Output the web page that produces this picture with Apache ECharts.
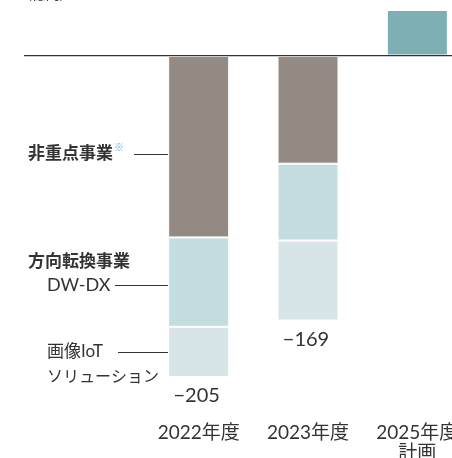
<!DOCTYPE html>
<html>
<head>
<meta charset="utf-8">
<script src="https://cdn.jsdelivr.net/npm/echarts@6/dist/echarts.min.js"></script>
<style>
  html, body { margin: 0; padding: 0; background: #ffffff; }
  #chart { width: 452px; height: 458px; }
</style>
</head>
<body>
<div id="chart"></div>
<script>
  // 億円
  let years = ['2022年度', '2023年度', '2025年度\n計画']
  let nonCore = [-116, -69, null]
  let dwdx = [-57, -49, null]
  let imageIot = [-32, -51, null]
  let plan = [null, null, 29]
  let totals = [-205, -169, null]

  let font = "Lato, 'Noto Sans CJK JP', sans-serif"
  let myChart = echarts.init(document.getElementById('chart'))

  let seg = function (name, data, color) {
    return {
      name: name,
      type: 'bar',
      stack: 'all',
      barWidth: 61,
      data: data,
      itemStyle: { color: color, borderColor: '#fff', borderWidth: 1 }
    }
  }

  let iot = seg('画像IoTソリューション', imageIot, '#d7e5e9')
  iot.label = {
    show: true,
    position: 'bottom',
    distance: 9,
    offset: [-2, 0],
    fontFamily: font,
    fontSize: 20,
    color: '#333',
    formatter: function (p) {
      let t = totals[p.dataIndex]
      return t == null ? '' : String(t).replace('-', '−')
    }
  }

  myChart.setOption({
    animation: false,
    grid: { left: 144, right: -20, top: 10, bottom: 81, outerBoundsMode: 'none', containLabel: false },
    xAxis: {
      type: 'category',
      data: years,
      axisLine: { show: false },
      axisTick: { show: false },
      axisLabel: { interval: 0, hideOverlap: false, margin: 46, fontFamily: font, fontSize: 19, color: '#333', lineHeight: 20 }
    },
    yAxis: {
      type: 'value',
      min: -205,
      max: 29,
      show: false,
      splitLine: { show: false }
    },
    series: [
      seg('非重点事業', nonCore, '#938a84'),
      seg('DW-DX', dwdx, '#c4dde1'),
      iot,
      seg('計画', plan, '#7eafb5')
    ]
  })

  let y0 = Math.round(myChart.convertToPixel({ yAxisIndex: 0 }, 0))
  let txt = function (x, y, s, bold, size, color) {
    return {
      type: 'text', x: x, y: y,
      style: { text: s, fontFamily: font, fontSize: size || 17, fontWeight: bold ? 'bold' : 'normal',
               fill: color || '#333', verticalAlign: 'middle' }
    }
  }
  let line = function (x1, x2, y) {
    return { type: 'line', shape: { x1: x1, y1: y + 0.5, x2: x2, y2: y + 0.5 }, style: { stroke: '#333', lineWidth: 1 } }
  }

  myChart.setOption({
    graphic: [
      { type: 'line', z: 100, shape: { x1: 24, y1: y0 + 1.5, x2: 452, y2: y0 + 1.5 }, style: { stroke: '#ccc', lineWidth: 1 } },
      { type: 'line', z: 100, shape: { x1: 24, y1: y0 + 0.5, x2: 452, y2: y0 + 0.5 }, style: { stroke: '#333', lineWidth: 1 } },
      txt(28, -6, '(億円)', false, 14),
      txt(28, 154, '非重点事業', true, 17),
      txt(114, 148, '※', false, 10, '#5aaee0'),
      line(134, 168, 154),
      txt(28, 262, '方向転換事業', true, 17),
      txt(47, 285, 'DW-DX', false, 18),
      line(115, 168, 285),
      txt(47, 352, '画像IoT', false, 17),
      line(118, 168, 352),
      txt(47, 377, 'ソリューション', false, 16)
    ]
  })
</script>
</body>
</html>
